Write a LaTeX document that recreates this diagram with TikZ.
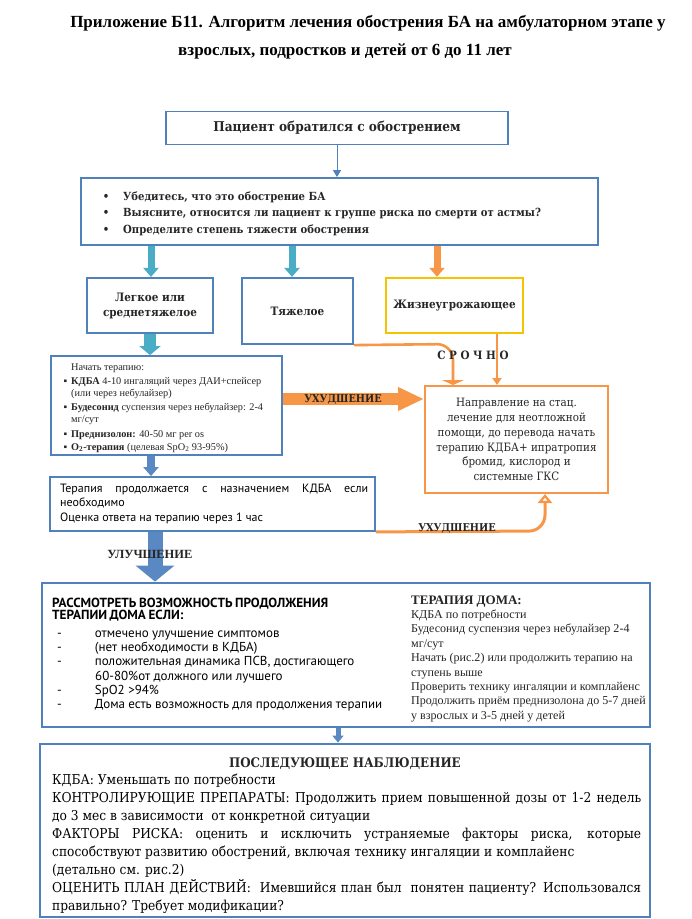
\documentclass[tikz,border=0pt]{standalone}
\usepackage{fontspec}
\setmainfont{Liberation Serif}
\newfontfamily\camb[FakeStretch=0.9]{DejaVu Serif}
\newfontfamily\cand{PT Sans}
\usetikzlibrary{arrows.meta,calc}
\definecolor{bblue}{HTML}{4F81BD}
\definecolor{aqua}{HTML}{4BACC6}
\definecolor{orng}{HTML}{F79646}
\definecolor{gold}{HTML}{F5C400}
\definecolor{darr}{HTML}{5A88C2}
\definecolor{txtd}{HTML}{262626}
\newcommand\hdrfont{\camb\bfseries\fontsize{11.6}{15}\selectfont}
\newcommand\napfont{\camb\fontsize{11.5}{14.8}\selectfont}
\begin{document}
\begin{tikzpicture}[x=1pt,y=-1pt,
  box/.style={draw=bblue, line width=1.8pt, inner sep=0pt, fill=white},
  thickbox/.style={draw=bblue, line width=2.8pt, inner sep=0pt, fill=white},
  obox/.style={draw=orng, line width=2pt, inner sep=0pt, fill=white},
  ybox/.style={draw=gold, line width=2.4pt, inner sep=0pt, fill=white},
  txt/.style={inner sep=0pt, anchor=base west, text=txtd},
  hdr/.style={font=\hdrfont, text=txtd, align=center},
  oline/.style={draw=orng, line width=2.6pt},
]
\useasboundingbox (0,0) rectangle (692,919);
\fill[white] (0,0) rectangle (692,919);

% title
\node[inner sep=0pt, anchor=base] (t1) at (368,27) {\bfseries\fontsize{17}{19}\selectfont Приложение Б11. Алгоритм лечения обострения БА на амбулаторном этапе у};
\node[inner sep=0pt, anchor=base] (t2) at (345,55) {\bfseries\fontsize{17}{19}\selectfont взрослых, подростков и детей от 6 до 11 лет};

% boxes
\node[box, minimum width=342pt, minimum height=33pt] (p) at (337,128) {\camb\bfseries\fontsize{13.5}{16}\selectfont\color{txtd} Пациент обратился с обострением};
\node[box, minimum width=517pt, minimum height=67pt] (q) at (339.5,211.5) {};
\node[txt] (qt) at (123,200) {\parbox[t]{470pt}{\camb\bfseries\fontsize{11.2}{16}\selectfont
  \leavevmode\llap{\textbullet\hspace{14pt}}Убедитесь, что это обострение БА\\
  \llap{\textbullet\hspace{14pt}}Выясните, относится ли пациент к группе риска по смерти от астмы?\\[1pt]
  \llap{\textbullet\hspace{14pt}}Определите степень тяжести обострения}};

\node[box, line width=2.2pt, minimum width=126pt, minimum height=55pt, hdr] (lg) at (150,305.5) {Легкое или\\среднетяжелое};
\node[box, line width=2.2pt, minimum width=111pt, minimum height=66pt, hdr] (tj) at (297.5,311) {Тяжелое};
\node[ybox, minimum width=137pt, minimum height=55pt, hdr] (zh) at (454.5,305.5) {Жизнеугрожающее};

\node[box, minimum width=231pt, minimum height=99pt] (nt) at (166.5,405.5) {};
\node[txt] (ntt) at (71,370) {\parbox[t]{215pt}{\fontsize{10.3}{12}\selectfont
  Начать терапию:\\[2pt]
  \llap{▪\hspace{4pt}}\textbf{КДБА} 4-10 ингаляций через ДАИ+спейсер\\
  (или через небулайзер)\\[2pt]
  \llap{▪\hspace{4pt}}\textbf{Будесонид} суспензия через небулайзер: 2-4\\
  мг/сут\\[3pt]
  \llap{▪\hspace{4pt}}\textbf{Преднизолон:} 40-50 мг per os\\[1pt]
  \llap{▪\hspace{4pt}}\textbf{O\textsubscript{2}-терапия} (целевая SpO\textsubscript{2} 93-95\%)}};

\node[obox, minimum width=183pt, minimum height=107pt, align=center, text=txtd, font=\napfont] (nap) at (516.5,439.5) {Направление на стац.\\лечение для неотложной\\помощи, до перевода начать\\терапию КДБА+ ипратропия\\бромид, кислород и\\системные ГКС};

\node[box, minimum width=325pt, minimum height=54pt] (tp) at (212.5,504) {};
\node[txt, text=black] (tpt) at (60,492) {\parbox[t]{312pt}{\cand\fontsize{12}{14.5}\selectfont
  \makebox[308pt][s]{Терапия продолжается с назначением КДБА если}\\
  необходимо\\
  Оценка ответа на терапию через 1 час}};

\node[thickbox, minimum width=608pt, minimum height=144pt] (big) at (346,655) {};
\node[txt, text=black] (bl) at (52,607) {\parbox[t]{330pt}{\cand\fontsize{13}{14.3}\selectfont
  {\bfseries\fontsize{13.2}{12.8}\selectfont\spaceskip=2.6pt РАССМОТРЕТЬ ВОЗМОЖНОСТЬ ПРОДОЛЖЕНИЯ\\
  ТЕРАПИИ ДОМА ЕСЛИ:\par}\vspace{3pt}
  \hspace*{5pt}-\hspace{33pt}отмечено улучшение симптомов\\
  \hspace*{5pt}-\hspace{33pt}(нет необходимости в КДБА)\\
  \hspace*{5pt}-\hspace{33pt}положительная динамика ПСВ, достигающего\\
  \hspace*{43pt}60-80\%от должного или лучшего\\
  \hspace*{5pt}-\hspace{33pt}SpO2 >94\%\\
  \hspace*{5pt}-\hspace{33pt}Дома есть возможность для продолжения терапии}};
\node[txt] (br) at (411,604) {\parbox[t]{236pt}{\fontsize{12.05}{14.4}\selectfont
  {\bfseries\fontsize{13}{14.4}\selectfont ТЕРАПИЯ ДОМА:}\\
  КДБА по потребности\\
  Будесонид суспензия через небулайзер 2-4\\
  мг/сут\\
  Начать (рис.2) или продолжить терапию на\\
  ступень выше\\
  Проверить технику ингаляции и комплайенс\\
  Продолжить приём преднизолона до 5-7 дней\\
  у взрослых и 3-5 дней у детей}};

\node[thickbox, minimum width=610pt, minimum height=173pt] (fin) at (345,830.5) {};
\node[inner sep=0pt, anchor=base, text=txtd] (fh) at (345,767) {\camb\bfseries\fontsize{13.2}{18}\selectfont ПОСЛЕДУЮЩЕЕ НАБЛЮДЕНИЕ};
\node[txt, text=black] (ft) at (52,784) {\parbox[t]{600pt}{\camb\fontsize{13.6}{18}\selectfont
  КДБА: Уменьшать по потребности\\
  \makebox[589pt][s]{КОНТРОЛИРУЮЩИЕ ПРЕПАРАТЫ: Продолжить прием повышенной дозы от 1-2 недель}\\
  до 3 мес в зависимости\ \ от конкретной ситуации\\
  \makebox[589pt][s]{ФАКТОРЫ РИСКА: оценить и исключить устраняемые факторы риска, которые}\\
  способствуют развитию обострений, включая технику ингаляции и комплайенс\\
  (детально см. рис.2)\\
  \makebox[589pt][s]{ОЦЕНИТЬ ПЛАН ДЕЙСТВИЙ:\ \ Имевшийся план был\ \ понятен пациенту? Использовался}\\
  правильно? Требует модификации?}};

% helper coordinates
\coordinate (k1) at (151,0);
\coordinate (k2) at (292,0);
\coordinate (k3) at (437,0);
\coordinate (k4) at (150,0);
\coordinate (k5) at (151,0);
\coordinate (k6) at (155,0);
\coordinate (k7) at (338,0);
\coordinate (k8) at (337,0);
\coordinate (u) at (0,399);
\coordinate (c1) at (453,344);
\coordinate (c2) at (497,0);
\coordinate (c3) at (545,531);

% connectors
\draw[bblue, line width=1pt, -{Triangle[width=8pt,length=7pt]}] (p.south -| k8) -- (q.north -| k8);
\draw[aqua, line width=7pt, -{Triangle[width=15pt,length=9pt]}] (q.south -| k1) -- (lg.north -| k1);
\draw[aqua, line width=7pt, -{Triangle[width=15pt,length=9pt]}] (q.south -| k2) -- (tj.north -| k2);
\draw[orng, line width=7pt, -{Triangle[width=15pt,length=9pt]}] (q.south -| k3) -- (zh.north -| k3);
\draw[aqua, line width=12pt, -{Triangle[width=21pt,length=9pt]}] (lg.south -| k4) -- (nt.north -| k4);
\draw[darr, line width=8pt, -{Triangle[width=15pt,length=9pt]}] (nt.south -| k5) -- (tp.north -| k5);
\draw[darr, line width=15pt, -{Triangle[width=38pt,length=16pt]}] (tp.south -| k6) -- (big.north -| k6);
\draw[darr, line width=5pt, -{Triangle[width=11pt,length=7pt]}] (big.south -| k7) -- (fin.north -| k7);
\draw[orng, line width=12pt, -{Triangle[width=22pt,length=26pt]}] (nt.east |- u) -- (nap.west |- u);
\draw[oline, rounded corners=16pt, -{Triangle[width=22pt,length=5pt]}] (tj.south east) -- (c1) -- (nap.north -| c1);
\draw[oline, -{Triangle[width=9pt,length=7pt]}] (zh.south -| c2) -- (nap.north -| c2);
\draw[oline, line width=3pt, rounded corners=16pt, -{Triangle[open,width=14pt,length=9pt,fill=white]}] (tp.south east) -- (c3) -- (nap.south -| c3);

% labels
\node[inner sep=0pt, text=txtd] (uh1) at (343,399) {\camb\bfseries\fontsize{10.8}{12}\selectfont УХУДШЕНИЕ};
\node[inner sep=0pt, text=txtd] (uh2) at (457,528) {\camb\bfseries\fontsize{10.8}{12}\selectfont УХУДШЕНИЕ};
\node[inner sep=0pt, text=txtd] (sr) at (473,355) {\camb\bfseries\fontsize{11.5}{12}\selectfont С Р О Ч Н О};
\node[inner sep=0pt, text=txtd] (ul) at (150,554) {\bfseries\fontsize{12.5}{14}\selectfont УЛУЧШЕНИЕ};
\end{tikzpicture}
\end{document}
